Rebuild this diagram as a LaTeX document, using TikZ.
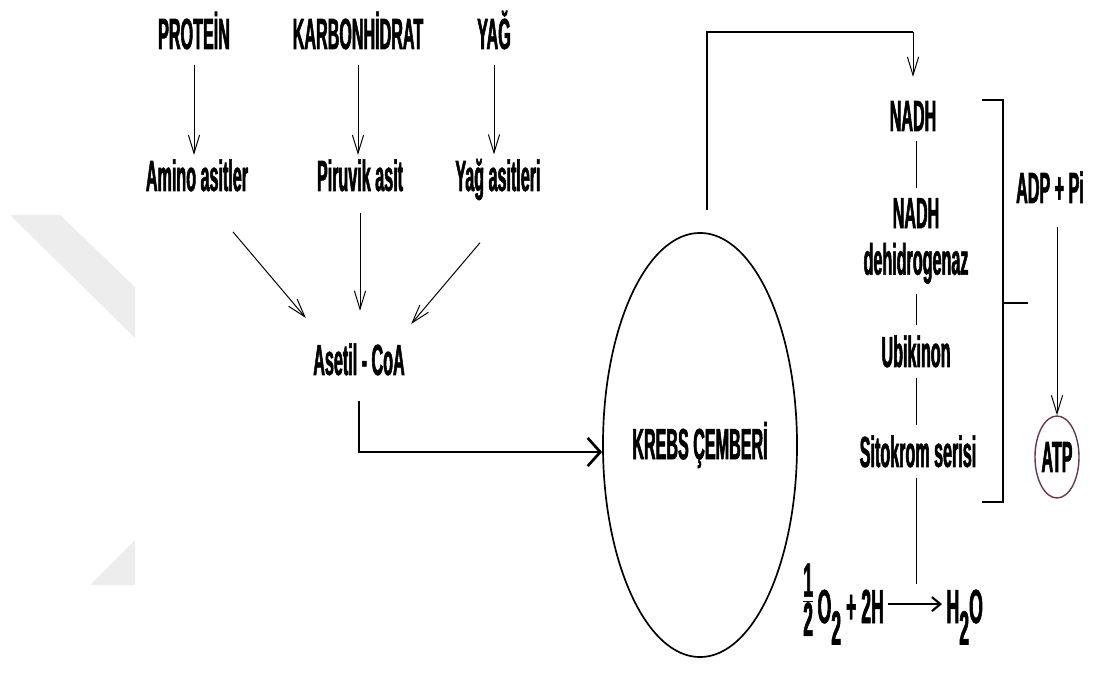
\documentclass[tikz,border=0pt]{standalone}
\usepackage{fontspec}
\setmainfont{Liberation Sans}[FakeStretch=0.37, BoldFeatures={FakeBold=1.2}]
\usetikzlibrary{shapes.geometric, arrows.meta, positioning, calc}

\definecolor{filigran}{gray}{0.93}
\definecolor{atpkenar}{RGB}{105,55,85}
\newcommand{\asagi}[1]{\raisebox{-0.45em}{#1}}

\begin{document}
\begin{tikzpicture}[
		% Birim: 1 piksel
		x=0.025cm, y=-0.025cm,
		etiket/.style = {font=\fontsize{31}{33}\selectfont\bfseries, inner sep=3pt, align=center},
		denklem/.style = {font=\fontsize{34}{36}\selectfont\bfseries, inner sep=3pt},
		cember/.style = {draw, ellipse, line width=1.2pt, minimum width=4.85cm, minimum height=10.6cm, inner sep=0pt, font=\fontsize{31}{33}\selectfont\bfseries},
		atpdugum/.style = {draw=atpkenar, ellipse, line width=1pt, minimum width=1.1cm, minimum height=2.05cm, inner sep=0pt, font=\fontsize{31}{33}\selectfont\bfseries},
		ince/.style = {line width=0.7pt},
		kalin/.style = {line width=1.9pt},
		zincir/.style = {line width=0.7pt, shorten <=4pt, shorten >=4pt},
		>={Straight Barb[length=13pt,width=8pt]}
		]
		\useasboundingbox (0,0) rectangle (1094,675);
		
		% --- FİLİGRAN ---
		\fill[filigran] (10,215) -- (60,215) -- (135,287) -- (135,338) -- cycle;
		\fill[filigran] (135,540) -- (135,585) -- (90,585) -- cycle;
		
		% --- BESİN KAYNAKLARI ---
		\node[etiket, anchor=base] (protein) at (194,49) {PROTEİN};
		\node[etiket, anchor=base] (karbon) at (358,49) {KARBONHİDRAT};
		\node[etiket, anchor=base] (yag) at (494,49) {YAĞ};
		
		\node[etiket, anchor=base] (amino) at (197,191) {Amino asitler};
		\node[etiket, anchor=base] (piruvik) at (360,191) {Piruvik asit};
		\node[etiket, anchor=base] (yagAsit) at (498,191) {Yağ asitleri};
		
		\node[etiket, anchor=base] (asetil) at (359,375) {Asetil - CoA};
		
		% Krebs çemberi
		\node[cember] (krebs) at (700,445) {KREBS ÇEMBERİ};
		
		% --- ELEKTRON TAŞIMA ZİNCİRİ ---
		\node[etiket, anchor=base] (nadh) at (913,131) {NADH};
		\node[etiket] (nadhDh) at (916,241) {NADH\\dehidrogenaz};
		\node[etiket, anchor=base] (ubikinon) at (916,367) {Ubikinon};
		\node[etiket, anchor=base] (sitokrom) at (918,467) {Sitokrom serisi};
		
		\node[etiket, anchor=base] (adp) at (1050,203) {ADP + Pi};
		\node[atpdugum] (atp) at (1057,457) {ATP};
		
		% Su oluşumu
		\node[denklem, anchor=base west] (tepkime) at (797,623) {\raisebox{9pt}{$\frac{\mbox{1}}{\mbox{2}}$}\kern2pt O\asagi{2} + 2H};
		\node[denklem, anchor=base west] (su) at (942,623) {H\asagi{2}O};
		
		% --- BAĞLANTILAR ---
		\draw[ince, ->, shorten <=8pt] (protein.south) -- (protein.south |- amino.north);
		\draw[ince, ->, shorten <=8pt] (karbon.south) -- (karbon.south |- piruvik.north);
		\draw[ince, ->, shorten <=8pt] (yag.south) -- (yag.south |- yagAsit.north);
		
		\draw[ince, ->] ($(amino.south)+(36,36)$) -- ($(asetil.north west)+(-3,-21)$);
		\draw[ince, ->, shorten <=12pt, shorten >=20pt] (piruvik.south) -- (piruvik.south |- asetil.north);
		\draw[ince, ->] ($(yagAsit.south)+(-18,38)$) -- ($(asetil.north east)+(2,-15)$);
		
		% Asetil-CoA -> Krebs
		\draw[kalin, -{Straight Barb[length=9pt,width=20pt]}, shorten <=15pt] (asetil.south) |- ([yshift=-5pt]krebs.west);
		
		% Krebs -> NADH
		\coordinate (donusKose) at (913,32);
		\draw[kalin] ([xshift=5pt, yshift=16pt]krebs.north) |- (donusKose);
		\draw[ince, ->, shorten >=14pt] (donusKose) -- (nadh.north);
		
		\draw[zincir] (nadh.south -| nadhDh.north) -- (nadhDh.north);
		\draw[zincir] (nadhDh) -- (ubikinon);
		\draw[zincir] (ubikinon.south) -- (ubikinon.south |- sitokrom.north);
		\draw[ince, shorten <=4pt] (sitokrom.south -| ubikinon.south) -- ++(0,112);
		
		\draw[line width=1.5pt, -{Straight Barb[length=6pt,width=10pt]}] (tepkime.east) -- (tepkime.east -| su.west);
		
		% Parantez ve ATP sentezi
		\coordinate (parUst) at (982,100);
		\coordinate (parOrta) at (1003,303);
		\coordinate (parAlt) at (982,502);
		\draw[kalin] (parUst) -| (parOrta) |- (parAlt);
		\draw[kalin] (parOrta) -- ++(25,0);
		
		\draw[ince, ->, shorten <=14pt] (adp.south -| atp.north) -- (atp.north);
		
	\end{tikzpicture}
\end{document}
